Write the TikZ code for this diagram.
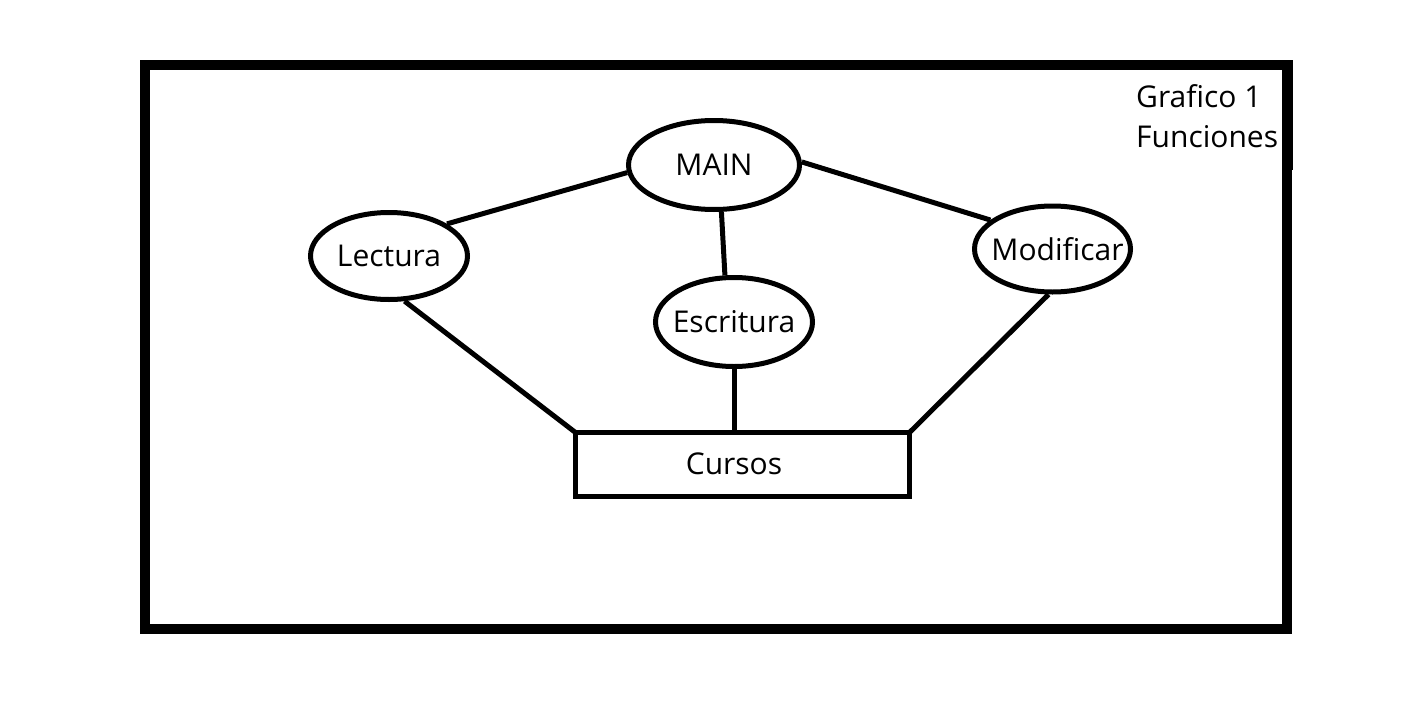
\documentclass[tikz,border=0pt]{standalone}
\usepackage{fontspec}
\setmainfont{Open Sans}
\usetikzlibrary{shapes.geometric}
\begin{document}
\begin{tikzpicture}[x=1pt,y=-1pt,
  ell/.style={draw,ellipse,line width=5pt,inner sep=0pt},
  conn/.style={line width=5pt},
  txt/.style={font=\fontsize{30}{36}\selectfont,inner sep=0pt}]
\useasboundingbox[fill=white] (0,0) rectangle (1416,712);
% frame
\draw[line width=10pt] (145,65) rectangle (1287,629);
\fill (1282,60) rectangle (1293,170);
% nodes
\node[ell,minimum width=171pt,minimum height=89pt,txt] (MAIN) at (714,165) {\makebox[0pt]{MAIN}};
\node[ell,minimum width=157pt,minimum height=87pt,txt] (Lectura) at (389,256) {\makebox[0pt]{Lectura}};
\node[ell,minimum width=157pt,minimum height=89pt,txt] (Escritura) at (734,322) {\makebox[0pt]{Escritura}};
\node[ell,minimum width=156pt,minimum height=86pt,txt] (Modificar) at (1052.5,249) {\makebox[0pt]{\kern10pt Modificar}};
\node[draw,line width=5pt,minimum width=334pt,minimum height=63.5pt,inner sep=0pt] (Cursos) at (742.5,464.25) {};
\node[txt] (CursosLbl) at (734,464) {Cursos};
\node[txt,anchor=base west] (g1) at (1136,107) {Grafico 1};
\node[txt,anchor=base west] (g2) at (1136,147) {Funciones};
\coordinate (cnw) at ([shift={(2.5,2.5)}]Cursos.north west);
\coordinate (cne) at ([shift={(-2.5,2.5)}]Cursos.north east);
% connectors
\draw[conn] (MAIN.185) -- (Lectura.29);
\draw[conn] (MAIN.-81) -- (Escritura.101);
\draw[conn] (MAIN.2) -- (Modificar.155);
\draw[conn] (Lectura.-71) -- (cnw);
\draw[conn] (Escritura.south) -- (Escritura.south |- Cursos.north);
\draw[conn] (Modificar.-95) -- (cne);
\end{tikzpicture}
\end{document}
